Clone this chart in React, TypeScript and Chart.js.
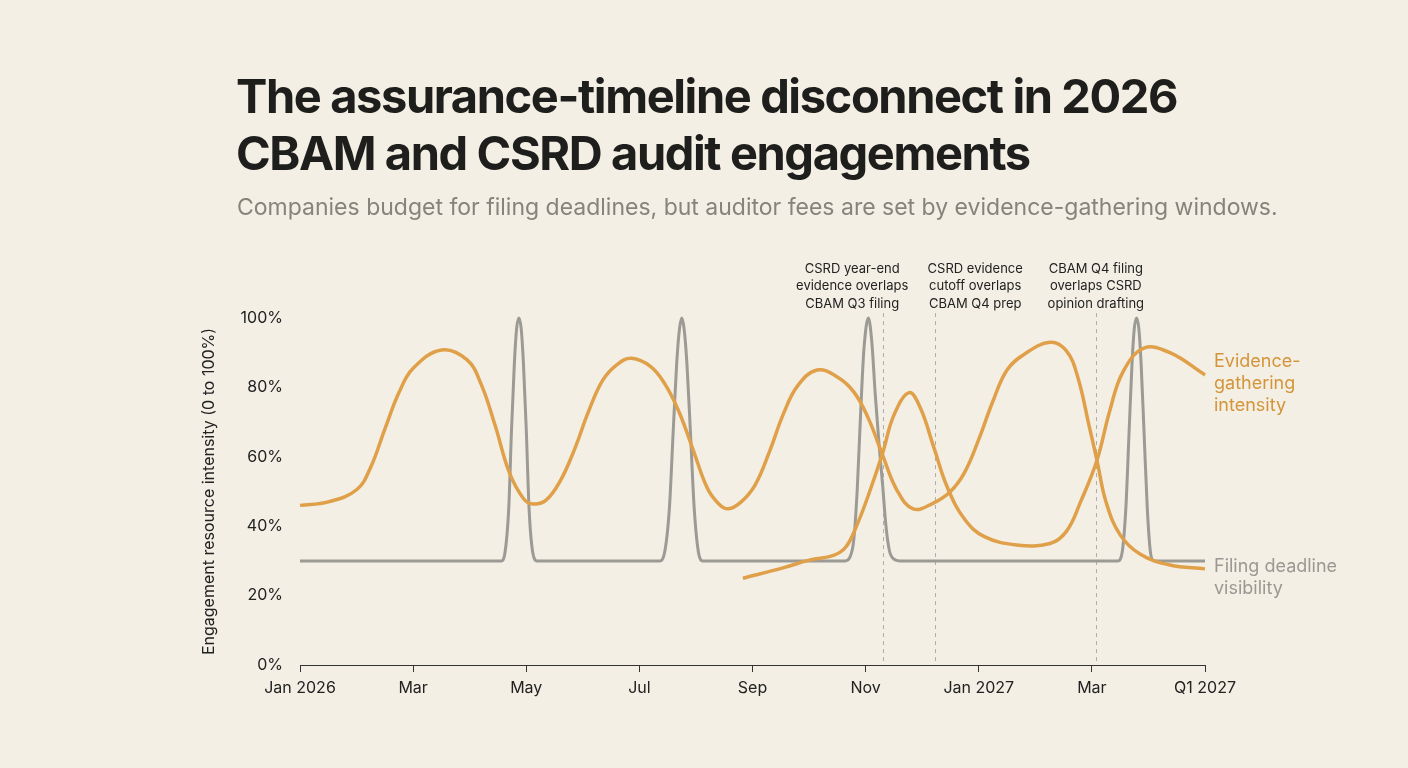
import React, { useEffect, useRef } from "react";
import { Chart, registerables } from "chart.js";

Chart.register(...registerables);

// ---------- data ----------
const X_TICK_LABELS = ["Jan 2026", "Mar", "May", "Jul", "Sep", "Nov", "Jan 2027", "Mar", "Q1 2027"];

// x values are months since Jan 2026
const EVIDENCE_A_X = [0, 0.5, 1.0, 1.25, 1.5, 1.75, 2.0, 2.5, 2.95, 3.2, 3.45, 3.7, 3.95, 4.12, 4.35, 4.6, 4.85, 5.1, 5.35, 5.6, 5.86, 6.2, 6.45, 6.7, 6.95, 7.2, 7.4, 7.57, 7.8, 8.05, 8.3, 8.55, 8.8, 9.14, 9.5, 9.8, 10.05, 10.3, 10.55, 10.84, 11.19, 11.5, 11.75, 12.0, 12.25, 12.5, 12.8, 13.26, 13.55, 13.75, 13.95, 14.09, 14.25, 14.5, 14.85, 15.38, 16];
const EVIDENCE_A_Y = [46, 47, 50.5, 57, 68, 78.5, 85.5, 90.8, 88, 81, 69, 55.5, 48, 46.4, 47.5, 53, 62, 73, 82, 86.5, 88.4, 86, 81, 73, 62, 51, 46.5, 45, 47, 52, 61.5, 72.5, 80.5, 85, 83, 78.5, 71, 60.5, 50.5, 45, 46.6, 50, 55.5, 65, 76, 85, 89.5, 93, 90.5, 83, 69, 59, 47, 37.5, 32, 28.8, 27.7];

const EVIDENCE_B_X = [7.83, 8.54, 9.02, 9.42, 9.65, 9.85, 10.05, 10.3, 10.5, 10.77, 10.97, 11.2, 11.45, 11.75, 12.1, 12.67, 13.26, 13.55, 13.8, 14.09, 14.32, 14.55, 14.92, 15.38, 16];
const EVIDENCE_B_Y = [25, 28, 30.3, 31.5, 34, 40.5, 49, 61, 72, 78.5, 74, 63, 51, 42, 37, 34.6, 35, 38.5, 47, 59, 73.5, 84.5, 91.3, 90, 83.6];

const FILING_X = [
  0,
  3.56, 3.62, 3.69, 3.74, 3.79, 3.83, 3.87, 3.91, 3.95, 4.0, 4.05, 4.12, 4.19,
  6.36, 6.44, 6.53, 6.6, 6.66, 6.71, 6.75, 6.79, 6.84, 6.9, 6.97, 7.05, 7.12,
  9.64, 9.72, 9.79, 9.85, 9.91, 9.97, 10.05, 10.11, 10.17, 10.24, 10.3, 10.36, 10.42, 10.5, 10.6,
  14.46, 14.53, 14.6, 14.66, 14.71, 14.75, 14.79, 14.83, 14.87, 14.92, 14.98, 15.04, 15.1,
  16,
];
const FILING_Y = [
  30,
  30, 32, 45, 68, 87, 97, 100, 97, 87, 68, 45, 32, 30,
  30, 32, 45, 68, 87, 97, 100, 97, 87, 68, 45, 32, 30,
  30, 31, 36, 50, 72, 91, 100, 93, 78, 63, 52, 40, 33, 30.5, 30,
  30, 32, 45, 68, 87, 97, 100, 97, 87, 68, 45, 32, 30,
  30,
];

const OVERLAP_X = [10.31, 11.23, 14.07];
const OVERLAP_NOTES = [
  ["CSRD year-end", "evidence overlaps", "CBAM Q3 filing"],
  ["CSRD evidence", "cutoff overlaps", "CBAM Q4 prep"],
  ["CBAM Q4 filing", "overlaps CSRD", "opinion drafting"],
];

const TITLE_LINES = ["The assurance-timeline disconnect in 2026", "CBAM and CSRD audit engagements"];
const SUBTITLE = "Companies budget for filing deadlines, but auditor fees are set by evidence-gathering windows.";
const Y_TITLE = "Engagement resource intensity (0 to 100%)";
const EVIDENCE_LABEL = ["Evidence-", "gathering", "intensity"];
const FILING_LABEL = ["Filing deadline", "visibility"];

// ---------- style ----------
const BG = "#f3efe4";
const ORANGE = "#e0a049";
const ORANGE_TEXT = "#d4953a";
const GRAY = "#9c9a95";
const GRAY_TEXT = "#9a9893";
const INK = "#1e1e1c";
const FONT = "Inter, 'Noto Sans', sans-serif";
const NOTE_SHIFT = [-31, 40, 0];

const toPoints = (xs: number[], ys: number[]) => xs.map((x, i) => ({ x, y: ys[i] }));

const decor = {
  id: "decor",
  beforeDraw(chart: any) {
    const { ctx, width, height } = chart;
    ctx.save();
    ctx.fillStyle = BG;
    ctx.fillRect(0, 0, width, height);
    ctx.textAlign = "left";
    ctx.textBaseline = "alphabetic";
    ctx.fillStyle = INK;
    ctx.font = `700 47px ${FONT}`;
    try { (ctx as any).letterSpacing = "-1.4px"; } catch (e) {}
    TITLE_LINES.forEach((t, i) => ctx.fillText(t, 236, 113 + i * 57));
    try { (ctx as any).letterSpacing = "0px"; } catch (e) {}
    ctx.font = `400 23px ${FONT}`;
    ctx.fillStyle = "#85837c";
    ctx.fillText(SUBTITLE, 237, 215);
    ctx.restore();
  },
  beforeDatasetsDraw(chart: any) {
    const { ctx, chartArea } = chart;
    const xs = chart.scales.x;
    ctx.save();
    ctx.strokeStyle = "#b0aea8";
    ctx.lineWidth = 1;
    ctx.setLineDash([4, 4]);
    OVERLAP_X.forEach((v) => {
      const px = Math.round(xs.getPixelForValue(v)) + 0.5;
      ctx.beginPath();
      ctx.moveTo(px, chartArea.top - 5);
      ctx.lineTo(px, chartArea.bottom);
      ctx.stroke();
    });
    ctx.restore();
  },
  afterDatasetsDraw(chart: any) {
    const { ctx, chartArea } = chart;
    const xs = chart.scales.x;
    const ys = chart.scales.y;
    ctx.save();
    ctx.textBaseline = "middle";
    ctx.textAlign = "center";
    ctx.fillStyle = "#222";
    ctx.font = `400 13px ${FONT}`;
    OVERLAP_X.forEach((v, i) => {
      const cx = xs.getPixelForValue(v) + NOTE_SHIFT[i];
      OVERLAP_NOTES[i].forEach((line, j) => {
        ctx.fillText(line, cx, chartArea.top - 49 + j * 17.5);
      });
    });
    ctx.textAlign = "left";
    ctx.font = `400 18px ${FONT}`;
    const lx = chartArea.right + 9;
    ctx.fillStyle = ORANGE_TEXT;
    const eY = ys.getPixelForValue(EVIDENCE_B_Y[EVIDENCE_B_Y.length - 1]);
    EVIDENCE_LABEL.forEach((l, j) => ctx.fillText(l, lx, eY - 13 + j * 22));
    ctx.fillStyle = GRAY_TEXT;
    const fY = ys.getPixelForValue(FILING_Y[FILING_Y.length - 1]);
    FILING_LABEL.forEach((l, j) => ctx.fillText(l, lx, fY + 6 + j * 22));
    ctx.restore();
  },
};

export default function App() {
  const ref = useRef<HTMLCanvasElement | null>(null);
  useEffect(() => {
    document.body.style.margin = "0";
    document.body.style.background = BG;
    const canvas = ref.current!;
    const chart = new Chart(canvas, {
      type: "line",
      data: {
        datasets: [
          {
            label: "Evidence-gathering intensity",
            data: toPoints(EVIDENCE_A_X, EVIDENCE_A_Y),
            borderColor: ORANGE,
            borderWidth: 3.5,
            pointRadius: 0,
            tension: 0.4,
            order: 0,
            clip: false as any,
          },
          {
            label: "Evidence-gathering intensity (second window)",
            data: toPoints(EVIDENCE_B_X, EVIDENCE_B_Y),
            borderColor: ORANGE,
            borderWidth: 3.5,
            pointRadius: 0,
            tension: 0.4,
            order: 0,
            clip: false as any,
          },
          {
            label: "Filing deadline visibility",
            data: toPoints(FILING_X, FILING_Y),
            borderColor: GRAY,
            borderWidth: 3,
            pointRadius: 0,
            cubicInterpolationMode: "monotone",
            order: 1,
            clip: false as any,
          },
        ],
      },
      options: {
        responsive: false,
        devicePixelRatio: 1,
        animation: false,
        layout: { padding: { left: 190, right: 203, top: 318, bottom: 40 } },
        plugins: {
          legend: { display: false },
          tooltip: { enabled: false },
          title: { display: false },
        },
        scales: {
          x: {
            type: "linear",
            min: 0,
            max: 16,
            afterFit: (s: any) => { s.height = 63; },
            ticks: {
              stepSize: 2,
              autoSkip: false,
              maxRotation: 0,
              padding: 7,
              color: "#222",
              font: { family: FONT, size: 16 },
              callback: (_v: any, i: number) => X_TICK_LABELS[i],
            },
            grid: {
              display: true,
              drawOnChartArea: false,
              drawTicks: true,
              tickLength: 7,
              tickColor: "#333",
              tickWidth: 1,
            },
            border: { display: true, color: "#333", width: 1 },
          },
          y: {
            min: 0,
            max: 100,
            afterFit: (s: any) => { s.width = 110; },
            ticks: {
              stepSize: 20,
              padding: 17,
              color: "#222",
              font: { family: FONT, size: 16 },
              callback: (v: any) => `${v}%`,
            },
            grid: { display: false, drawTicks: false },
            border: { display: false },
            title: {
              display: true,
              text: Y_TITLE,
              color: "#222",
              font: { family: FONT, size: 16 },
              padding: { top: 10, bottom: 0 },
            },
          },
        },
      },
      plugins: [decor],
    });
    return () => chart.destroy();
  }, []);
  return (
    <div style={{ position: "fixed", left: 0, top: 0, width: 1408, height: 768, background: BG }}>
      <canvas ref={ref} width={1408} height={768} style={{ display: "block" }} />
    </div>
  );
}
